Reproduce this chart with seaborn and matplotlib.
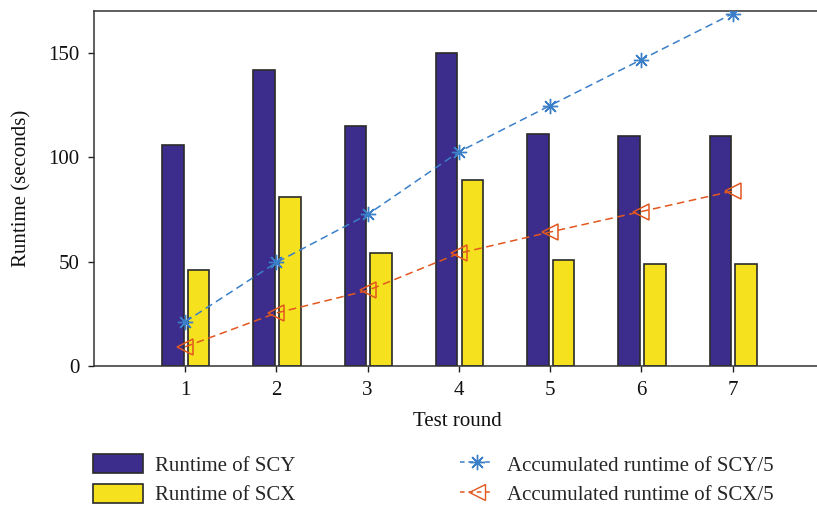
import matplotlib
matplotlib.use("Agg")
import matplotlib.pyplot as plt
import seaborn as sns
import pandas as pd
from matplotlib.patches import Patch
from matplotlib.lines import Line2D

rounds = [1, 2, 3, 4, 5, 6, 7]
runtime_scy = [106, 142, 115, 150, 111, 110, 110]
runtime_scx = [46, 81, 54, 89, 51, 49, 49]
acc_scy_5 = [21.2, 49.6, 72.6, 102.6, 124.8, 146.8, 168.8]
acc_scx_5 = [9.2, 25.4, 36.2, 54.0, 64.2, 74.0, 83.8]
yticks = [0, 50, 100, 150]

sns.set_theme(style="white")
plt.rcParams['font.family'] = ['Liberation Serif', 'DejaVu Serif']

c_scy = '#3c2d8c'
c_scx = '#f5e11e'
c_blue = '#3a7fc8'
c_orange = '#e2571e'
edge = '#2a2a2a'

fig = plt.figure(figsize=(8.17, 5.08), dpi=100)
ax = fig.add_axes([0.115, 0.2795, 0.89, 0.6985])

bw = 0.235
xs1 = [r - 0.135 for r in rounds]
xs2 = [r + 0.148 for r in rounds]
ax.bar(xs1, runtime_scy, width=bw, color=c_scy, edgecolor=edge, linewidth=1.2, zorder=2)
ax.bar(xs2, runtime_scx, width=bw, color=c_scx, edgecolor=edge, linewidth=1.2, zorder=2)

df = pd.DataFrame({'round': rounds, 'scy': acc_scy_5, 'scx': acc_scx_5})
sns.lineplot(data=df, x='round', y='scy', ax=ax, color=c_blue, linestyle='--',
             lw=1.1, marker=(8, 2, 0), markersize=11,
             markeredgecolor=c_blue, markeredgewidth=1.0, zorder=3)
ax.lines[-1].set_dashes([5, 3])
sns.lineplot(data=df, x='round', y='scx', ax=ax, color=c_orange, linestyle='--',
             lw=1.1, marker='<', markersize=11, markerfacecolor='none',
             markeredgecolor=c_orange, markeredgewidth=1.1, zorder=3)
ax.lines[-1].set_dashes([5, 3])

ax.set_xlim(0, 7.97)
ax.set_ylim(0, 170)
ax.set_xticks(rounds)
ax.set_yticks(yticks)
ax.tick_params(axis='both', direction='out', length=4.5, width=1, colors='#222222',
               labelsize=15, labelcolor='#111111', bottom=True, left=True, pad=6)
ax.set_xlabel('Test round', fontsize=15, color='#111111', labelpad=9)
ax.set_ylabel('Runtime (seconds)', fontsize=15, color='#111111', labelpad=12)
for s in ['left', 'bottom', 'top']:
    ax.spines[s].set_color('#333333')
    ax.spines[s].set_linewidth(1.1)
ax.spines['right'].set_visible(False)

h_bars = [
    Patch(facecolor=c_scy, edgecolor=edge, linewidth=1.2, label='Runtime of SCY'),
    Patch(facecolor=c_scx, edgecolor=edge, linewidth=1.2, label='Runtime of SCX'),
]
h_lines = [
    Line2D([], [], color=c_blue, linestyle=(0, (3, 2.5)), lw=1.1, marker=(8, 2, 0),
           markersize=11, markeredgecolor=c_blue, label='Accumulated runtime of SCY/5'),
    Line2D([], [], color=c_orange, linestyle=(0, (3, 2.5)), lw=1.1, marker='<',
           markersize=11, markerfacecolor='none', markeredgecolor=c_orange,
           label='Accumulated runtime of SCX/5'),
]
fig.legend(handles=h_bars, loc='upper left', bbox_to_anchor=(0.114, 0.106),
           frameon=False, fontsize=15, handlelength=2.4, handleheight=1.0,
           labelspacing=0.4, handletextpad=0.58, borderaxespad=0, borderpad=0)
fig.legend(handles=h_lines, loc='upper left', bbox_to_anchor=(0.563, 0.106),
           frameon=False, fontsize=15, handlelength=1.6, handleheight=1.0,
           labelspacing=0.4, handletextpad=0.67, borderaxespad=0, borderpad=0)

fig.savefig('out.png', dpi=100)
